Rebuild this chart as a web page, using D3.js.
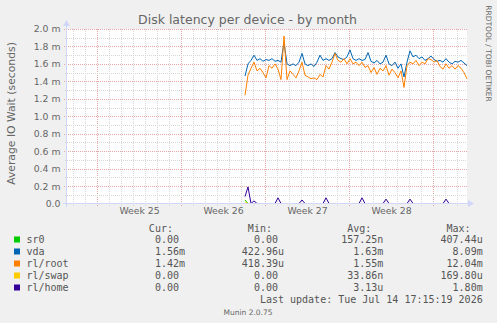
<!DOCTYPE html>
<html>
<head>
<meta charset="utf-8">
<script src="https://cdn.jsdelivr.net/npm/d3@7"></script>
<style>
  body { margin: 0; background: #f0f0f0; }
  svg { display: block; }
  text { font-family: "DejaVu Sans", sans-serif; fill: #666; }
  .mono { font-family: "DejaVu Sans Mono", monospace; font-size: 10px; fill: #555; }
</style>
</head>
<body>
<svg id="chart"></svg>
<script>
var width = 497, height = 323;
var plot = { left: 67, right: 467, top: 29, bottom: 203.5 };

// series, in drawing order (later ones on top)
var seriesNames = ["sr0", "vda", "rl/root", "rl/swap", "rl/home"];
var seriesColors = ["#00cc00", "#0066b3", "#ff8000", "#ffcc00", "#330099"];

// samples every 6 hours from this time on (values in milliseconds)
var startTime = Date.UTC(2026, 5, 27, 8);
var stepHours = 6;

var sr0 = [0.04,0,0,0,0,0,0,0,0,0, 0,0,0,0,0,0,0,0,0,0, 0,0,0,0,0,0,0,0,0,0,
  0,0,0,0,0,0,0,0,0,0, 0,0,0,0,0,0,0,0,0,0, 0,0,0,0,0,0,0,0,0,0, 0,0,0,0,0,0,0,0,0,0, 0,0,0,0,0];
var vda = [1.46,1.60,1.64,1.70,1.64,1.66,1.63,1.65,1.64,1.66,
  1.63,1.64,1.62,1.85,1.60,1.58,1.60,1.58,1.62,1.72,
  1.60,1.58,1.60,1.57,1.62,1.70,1.64,1.66,1.64,1.66,
  1.73,1.68,1.66,1.65,1.68,1.76,1.66,1.64,1.66,1.64,
  1.65,1.73,1.63,1.61,1.64,1.60,1.62,1.70,1.60,1.58,
  1.62,1.55,1.60,1.45,1.62,1.75,1.68,1.70,1.66,1.68,
  1.64,1.66,1.69,1.65,1.63,1.64,1.62,1.66,1.62,1.60,
  1.63,1.62,1.64,1.61,1.58];
var root = [1.24,1.47,1.55,1.62,1.52,1.55,1.50,1.44,1.58,1.55,
  1.60,1.54,1.42,1.92,1.42,1.52,1.48,1.44,1.52,1.62,
  1.47,1.45,1.43,1.44,1.42,1.48,1.45,1.58,1.54,1.62,
  1.72,1.64,1.62,1.66,1.60,1.66,1.60,1.62,1.58,1.62,
  1.56,1.58,1.50,1.56,1.48,1.55,1.52,1.58,1.47,1.54,
  1.50,1.44,1.52,1.33,1.58,1.62,1.60,1.64,1.58,1.62,
  1.60,1.66,1.65,1.62,1.64,1.57,1.54,1.60,1.55,1.58,
  1.54,1.58,1.55,1.50,1.43];
var swap = [0.02,0,0,0,0,0,0,0,0,0, 0,0,0,0,0,0,0,0,0,0, 0,0,0,0,0,0,0,0,0,0,
  0,0,0,0,0,0,0,0,0,0, 0,0,0,0,0,0,0,0,0,0, 0,0,0,0,0,0,0,0,0,0, 0,0,0,0,0,0,0,0,0,0, 0,0,0,0,0];
var home = [0.08,0.19,0,0.03,0,0,0,0,0,0, 0,0.065,0,0,0,0,0,0,0,0.04, 0,0,0,0,0,0,0,0.065,0,0,
  0,0,0,0,0,0,0,0,0,0.065, 0,0,0,0,0,0,0,0.05,0,0, 0,0,0,0,0,0.05,0,0,0,0, 0,0,0,0,0,0,0,0.05,0,0, 0,0,0,0,0];
var seriesValues = [sr0, vda, root, swap, home];

// axis ticks
var yMajor = [0, 0.2, 0.4, 0.6, 0.8, 1.0, 1.2, 1.4, 1.6, 1.8, 2.0];
var yMinor = [0.1, 0.3, 0.5, 0.7, 0.9, 1.1, 1.3, 1.5, 1.7, 1.9];
var weekStarts = [Date.UTC(2026, 5, 15), Date.UTC(2026, 5, 22), Date.UTC(2026, 5, 29), Date.UTC(2026, 6, 6)];
var weekLabels = ["Week 25", "Week 26", "Week 27", "Week 28"];

// legend
var legendCur = ["0.00", "1.56m", "1.42m", "0.00", "0.00"];
var legendMin = ["0.00", "422.96u", "418.39u", "0.00", "0.00"];
var legendAvg = ["157.25n", "1.63m", "1.55m", "33.86n", "3.13u"];
var legendMax = ["407.44u", "8.09m", "12.04m", "169.80u", "1.80m"];

var svg = d3.select("#chart").attr("width", width).attr("height", height);

var x = d3.scaleUtc()
  .domain([Date.UTC(2026, 5, 12, 12), Date.UTC(2026, 6, 15, 20)])
  .range([plot.left, plot.right]);
var y = d3.scaleLinear().domain([0, 2.0]).range([plot.bottom, plot.top]);

var px = v => Math.round(v) + 0.5;

// canvas
svg.append("rect")
  .attr("x", plot.left).attr("y", plot.top)
  .attr("width", plot.right - plot.left).attr("height", plot.bottom - plot.top)
  .attr("fill", "#fff");

var grid = svg.append("g").attr("shape-rendering", "crispEdges").attr("stroke-dasharray", "1,1");

// day lines and week lines
var days = d3.utcDay.range(x.domain()[0], x.domain()[1]).filter(d => +d > +x.domain()[0]);
days.forEach(d => {
  var major = d.getUTCDay() === 1;
  grid.append("line")
    .attr("x1", px(x(d))).attr("x2", px(x(d)))
    .attr("y1", plot.top).attr("y2", major ? plot.bottom + 3 : plot.bottom + 2)
    .attr("stroke", major ? "#e6a6a6" : "#d6d6d6");
});
yMinor.forEach(v => {
  grid.append("line")
    .attr("x1", plot.left - 2).attr("x2", plot.right)
    .attr("y1", px(y(v))).attr("y2", px(y(v)))
    .attr("stroke", "#d6d6d6");
});
yMajor.filter(v => v > 0).forEach(v => {
  grid.append("line")
    .attr("x1", plot.left - 3).attr("x2", plot.right)
    .attr("y1", px(y(v))).attr("y2", px(y(v)))
    .attr("stroke", "#e6a6a6");
});

// y axis labels
var yAxis = d3.axisLeft(y)
  .tickValues(yMajor)
  .tickSize(0)
  .tickPadding(6)
  .tickFormat(v => v === 0 ? "0.0" : v.toFixed(1) + " m");
var yG = svg.append("g").attr("transform", `translate(${plot.left - 0.5},0)`).call(yAxis);
yG.select(".domain").remove();
yG.selectAll("text").attr("fill", "#666").style("font-size", "9.3px").attr("font-family", null);

// x axis labels, centered in each week
var xAxis = d3.axisBottom(x)
  .tickValues(weekStarts.map(d => new Date(d + 3.5 * 864e5)))
  .tickSize(0)
  .tickPadding(4)
  .tickFormat((d, i) => weekLabels[i]);
var xG = svg.append("g").attr("transform", `translate(0,${plot.bottom})`).call(xAxis);
xG.select(".domain").remove();
xG.selectAll("text").attr("fill", "#666").style("font-size", "9.3px").attr("font-family", null);

// series
var times = vda.map((v, i) => startTime + i * stepHours * 3600e3);
var line = d3.line()
  .x((d, i) => x(times[i]))
  .y(d => y(d));
seriesValues.forEach((vals, k) => {
  svg.append("path")
    .datum(vals)
    .attr("d", line)
    .attr("fill", "none")
    .attr("stroke", seriesColors[k])
    .attr("stroke-width", 1);
});

// axis lines with arrows
var axisColor = "#cfd6f8";
svg.append("line")
  .attr("x1", plot.left - 4).attr("x2", plot.right + 2)
  .attr("y1", plot.bottom).attr("y2", plot.bottom)
  .attr("stroke", axisColor).attr("shape-rendering", "crispEdges");
svg.append("line")
  .attr("x1", plot.left - 0.5).attr("x2", plot.left - 0.5)
  .attr("y1", plot.bottom + 3).attr("y2", plot.top - 4)
  .attr("stroke", axisColor).attr("shape-rendering", "crispEdges");
svg.append("path")
  .attr("d", `M${plot.right + 1},${plot.bottom - 3.5}L${plot.right + 7},${plot.bottom}L${plot.right + 1},${plot.bottom + 3.5}Z`)
  .attr("fill", axisColor);
svg.append("path")
  .attr("d", `M${plot.left - 4},${plot.top - 3}L${plot.left - 0.5},${plot.top - 9}L${plot.left + 3},${plot.top - 3}Z`)
  .attr("fill", axisColor);

// title
svg.append("text")
  .attr("x", 247.5).attr("y", 24)
  .attr("text-anchor", "middle")
  .style("font-size", "12.5px")
  .text("Disk latency per device - by month");

// y axis title
svg.append("text")
  .attr("transform", `translate(14.5,${113.5}) rotate(-90)`)
  .attr("text-anchor", "middle")
  .style("font-size", "10.8px")
  .text("Average IO Wait (seconds)");

// watermark
svg.append("text")
  .attr("transform", "translate(486,53.5) rotate(90)")
  .attr("text-anchor", "middle")
  .style("font-size", "7.5px")
  .attr("fill", "#d0d0d0")
  .text("RRDTOOL / TOBI OETIKER");

// legend
var charW = 6.02;
var colRight = [185, 284, 383.3, 482.7];
var columns = [legendCur, legendMin, legendAvg, legendMax];
var headers = ["Cur:", "Min:", "Avg:", "Max:"];

headers.forEach((h, c) => {
  svg.append("text").classed("mono", true)
    .attr("x", colRight[c] - 2 * charW).attr("y", 231.5)
    .attr("text-anchor", "end")
    .text(h);
});

seriesNames.forEach((name, r) => {
  var base = 243 + r * 12;
  svg.append("rect")
    .attr("x", 14).attr("y", base - 6.5)
    .attr("width", 6).attr("height", 6)
    .attr("fill", seriesColors[r]);
  svg.append("text").classed("mono", true)
    .attr("x", 26.5).attr("y", base)
    .text(name);
  columns.forEach((col, c) => {
    var s = col[r];
    var hasUnit = /[a-z]$/i.test(s);
    svg.append("text").classed("mono", true)
      .attr("x", colRight[c] - (hasUnit ? 0 : charW)).attr("y", base)
      .attr("text-anchor", "end")
      .text(s);
  });
});

svg.append("text").classed("mono", true)
  .attr("x", colRight[3]).attr("y", 303)
  .attr("text-anchor", "end")
  .text("Last update: Tue Jul 14 17:15:19 2026");

svg.append("text")
  .attr("x", 248).attr("y", 315)
  .attr("text-anchor", "middle")
  .style("font-size", "7.5px")
  .attr("fill", "#c0c0c0")
  .text("Munin 2.0.75");
</script>
</body>
</html>
